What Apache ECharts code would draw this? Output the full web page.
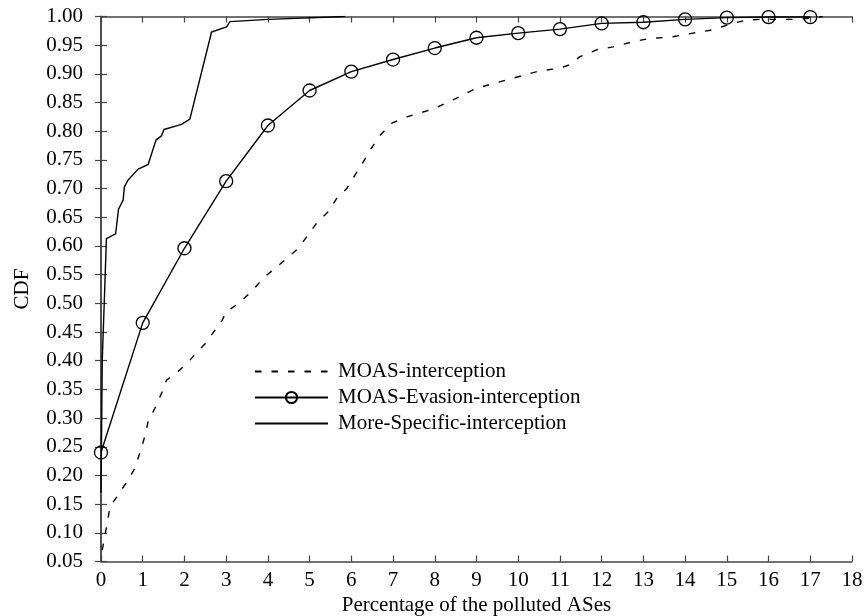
<!DOCTYPE html>
<html>
<head>
<meta charset="utf-8">
<script src="https://cdn.jsdelivr.net/npm/echarts@6/dist/echarts.min.js"></script>
<style>html,body{margin:0;padding:0;background:#fff}#c{width:864px;height:616px}</style>
</head>
<body>
<div id="c"></div>
<script>
const seriesNames = ['MOAS-interception', 'MOAS-Evasion-interception', 'More-Specific-interception'];

const moasX = [0.03, 0.22, 0.41, 0.62, 0.81, 0.93, 1.05, 1.13, 1.29, 1.45, 1.57, 1.89, 2.13, 2.5, 2.9, 3.0, 3.3, 3.6, 3.89, 4.17, 4.45, 4.73, 4.93, 5.17, 5.45, 5.65, 5.89, 6.09, 6.29, 6.45, 6.69, 6.97, 7.33, 7.61, 8.0, 8.5, 9.0, 9.5, 10.0, 10.5, 11.0, 11.2, 11.48, 11.88, 12.27, 12.75, 13.16, 13.64, 14.19, 14.6, 15.15, 15.48, 15.8, 16.6, 17.0, 17.3];
const moasY = [0.07, 0.146, 0.166, 0.189, 0.212, 0.239, 0.268, 0.294, 0.317, 0.343, 0.366, 0.384, 0.401, 0.43, 0.47, 0.485, 0.50, 0.52, 0.544, 0.561, 0.578, 0.596, 0.616, 0.640, 0.660, 0.683, 0.700, 0.724, 0.747, 0.767, 0.793, 0.814, 0.825, 0.831, 0.84, 0.857, 0.875, 0.885, 0.895, 0.905, 0.91, 0.915, 0.93, 0.942, 0.947, 0.956, 0.962, 0.964, 0.971, 0.976, 0.988, 0.994, 0.995, 0.995, 0.997, 1.0];

const evasionX = [0, 1, 2, 3, 4, 5, 6, 7, 8, 9, 10, 11, 12, 13, 14, 15, 16, 17];
const evasionY = [0.24, 0.466, 0.596, 0.713, 0.810, 0.871, 0.904, 0.925, 0.945, 0.963, 0.971, 0.978, 0.988, 0.990, 0.995, 0.998, 0.999, 0.999];

const specX = [0, 0.03, 0.13, 0.35, 0.42, 0.53, 0.56, 0.65, 0.89, 1.13, 1.32, 1.45, 1.51, 1.93, 2.13, 2.65, 3.01, 3.09, 4.01, 5.85];
const specY = [0.17, 0.40, 0.613, 0.621, 0.664, 0.680, 0.703, 0.715, 0.734, 0.742, 0.785, 0.792, 0.803, 0.812, 0.821, 0.973, 0.982, 0.991, 0.995, 1.0];

const xTicks = [0, 18, 1];
const yTicks = [0.05, 1.0, 0.05];

function pairs(xs, ys) { return xs.map((x, i) => [x, ys[i]]); }

const FONT = 'Liberation Serif';
const AX = '#444';
const chart = echarts.init(document.getElementById('c'), null, {renderer: 'canvas'});

const axisCommon = {
  axisLine: {show: true, lineStyle: {color: AX, width: 1.5}},
  axisTick: {show: true, inside: true, length: 6, lineStyle: {color: AX, width: 1.2}},
  splitLine: {show: false},
};

chart.setOption({
  animation: false,
  backgroundColor: '#fff',
  textStyle: {fontFamily: FONT},
  grid: {left: 101, right: 12, top: 16.5, bottom: 54.5, containLabel: false, outerBoundsMode: 'none'},
  legend: {
    show: true,
    orient: 'vertical',
    left: 254,
    top: 361,
    padding: 0,
    itemWidth: 73,
    itemHeight: 14,
    itemGap: 5,
    data: [
      {name: seriesNames[0], itemStyle: {opacity: 0}},
      {name: seriesNames[1]},
      {name: seriesNames[2], itemStyle: {opacity: 0}},
    ],
    textStyle: {fontFamily: FONT, fontSize: 21, color: '#000', lineHeight: 21, padding: [0, 0, 0, 5]},
  },
  xAxis: [
    Object.assign({
      type: 'value', min: xTicks[0], max: xTicks[1], interval: xTicks[2], position: 'bottom',
      name: 'Percentage of the polluted ASes', nameLocation: 'middle', nameGap: 33,
      nameTextStyle: {fontFamily: FONT, fontSize: 21, color: '#000'},
      axisLabel: {fontFamily: FONT, fontSize: 21, color: '#000', margin: 8},
    }, axisCommon),
    Object.assign({
      type: 'value', min: xTicks[0], max: xTicks[1], interval: xTicks[2], position: 'top',
      axisLabel: {show: false},
    }, axisCommon),
  ],
  yAxis: [
    Object.assign({
      type: 'value', min: yTicks[0], max: yTicks[1], interval: yTicks[2], position: 'left',
      name: 'CDF', nameLocation: 'middle', nameGap: 68, nameRotate: 90,
      nameTextStyle: {fontFamily: FONT, fontSize: 21, color: '#000'},
      axisLabel: {fontFamily: FONT, fontSize: 21, color: '#000', margin: 18, formatter: v => v.toFixed(2)},
    }, axisCommon),
    Object.assign({
      type: 'value', min: yTicks[0], max: yTicks[1], interval: yTicks[2], position: 'right',
      axisLabel: {show: false},
    }, axisCommon),
  ],
  series: [
    {
      name: seriesNames[0], type: 'line', data: pairs(moasX, moasY),
      showSymbol: false, symbol: 'none',
      lineStyle: {color: '#000', width: 1.4, type: [6.5, 10]},
      itemStyle: {color: '#000'},
    },
    {
      name: seriesNames[1], type: 'line', data: pairs(evasionX, evasionY),
      symbol: 'circle', symbolSize: 13,
      lineStyle: {color: '#000', width: 1.4},
      itemStyle: {color: 'rgba(0,0,0,0)', borderColor: '#000', borderWidth: 1.3},
    },
    {
      name: seriesNames[2], type: 'line', data: pairs(specX, specY),
      showSymbol: false, symbol: 'none',
      lineStyle: {color: '#000', width: 1.4},
      itemStyle: {color: '#000'},
    },
  ],
});
</script>
</body>
</html>
